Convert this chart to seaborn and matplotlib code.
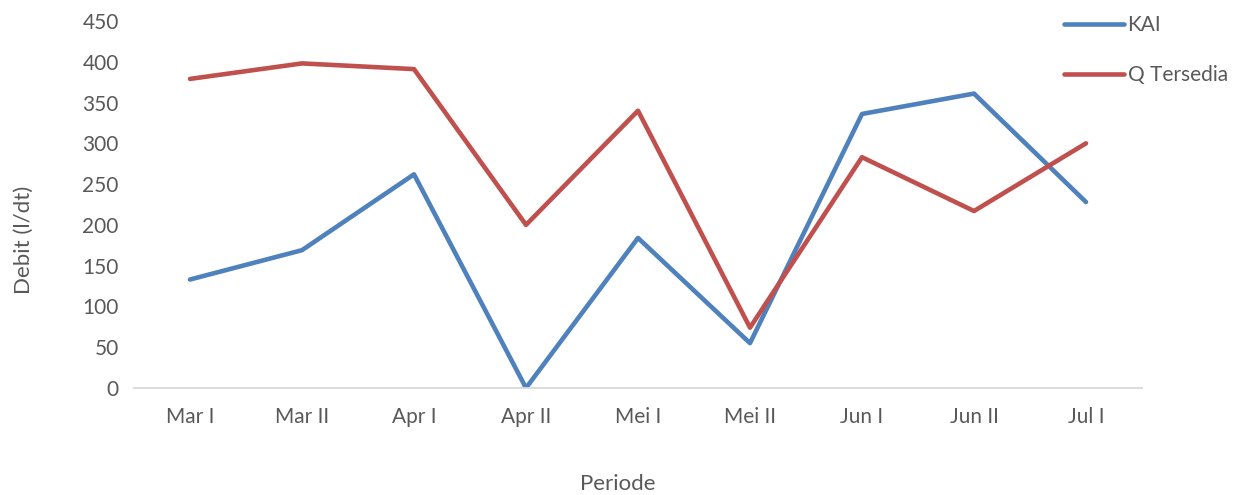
import matplotlib
matplotlib.use("Agg")
import matplotlib.pyplot as plt
import seaborn as sns
import pandas as pd

periods = ["Mar I", "Mar II", "Apr I", "Apr II", "Mei I", "Mei II", "Jun I", "Jun II", "Jul I"]
kai = [133, 169, 262, 0, 184, 55, 336, 361, 228]
q_tersedia = [379, 398, 391, 200, 340, 74, 283, 217, 300]

df = pd.DataFrame({
    "Periode": periods * 2,
    "Debit": kai + q_tersedia,
    "Seri": ["KAI"] * len(periods) + ["Q Tersedia"] * len(periods),
})

sns.set_theme(style="white")
plt.rcParams["font.family"] = ["Lato", "DejaVu Sans"]
text_color = "#595959"
W, H = 1236, 495

fig = plt.figure(figsize=(W / 100, H / 100), dpi=100)
ax = fig.add_axes([134 / W, 1 - 388 / H, 1008 / W, 367 / H])

sns.lineplot(data=df, x="Periode", y="Debit", hue="Seri", sort=False,
             palette={"KAI": "#4F81BD", "Q Tersedia": "#C0504D"},
             linewidth=3.3, ax=ax, legend=True)
for line in ax.get_lines():
    line.set_solid_capstyle("round")

ax.set_xlim(-0.5, len(periods) - 0.5)
ax.set_ylim(0, 450)
ax.set_yticks(range(0, 451, 50))
ax.tick_params(axis="both", length=0, labelsize=15, colors=text_color)
ax.tick_params(axis="x", pad=14)
ax.tick_params(axis="y", pad=11)

for side in ["top", "right", "left"]:
    ax.spines[side].set_visible(False)
ax.spines["bottom"].set_color("#D9D9D9")
ax.spines["bottom"].set_linewidth(1.3)

ax.set_xlabel("Periode", fontsize=16, color=text_color)
ax.set_ylabel("Debit (l/dt)", fontsize=16, color=text_color)
ax.xaxis.set_label_coords(618 / W, 1 - 484 / H, transform=fig.transFigure)
ax.xaxis.label.set_va("center")
ax.yaxis.set_label_coords(24 / W, 1 - 240 / H, transform=fig.transFigure)
ax.yaxis.label.set_va("center")

handles, labels = ax.get_legend_handles_labels()
leg = ax.legend(handles, labels, loc="upper left", bbox_to_anchor=(1064 / W, 1 - 15 / H),
                bbox_transform=fig.transFigure, frameon=False, fontsize=15,
                handlelength=2.9, handletextpad=0.15, labelspacing=1.45,
                borderpad=0, borderaxespad=0)
for t in leg.get_texts():
    t.set_color(text_color)
for h in leg.get_lines():
    h.set_linewidth(3.3)
    h.set_solid_capstyle("round")

fig.savefig("out.png", dpi=100, facecolor="white")
